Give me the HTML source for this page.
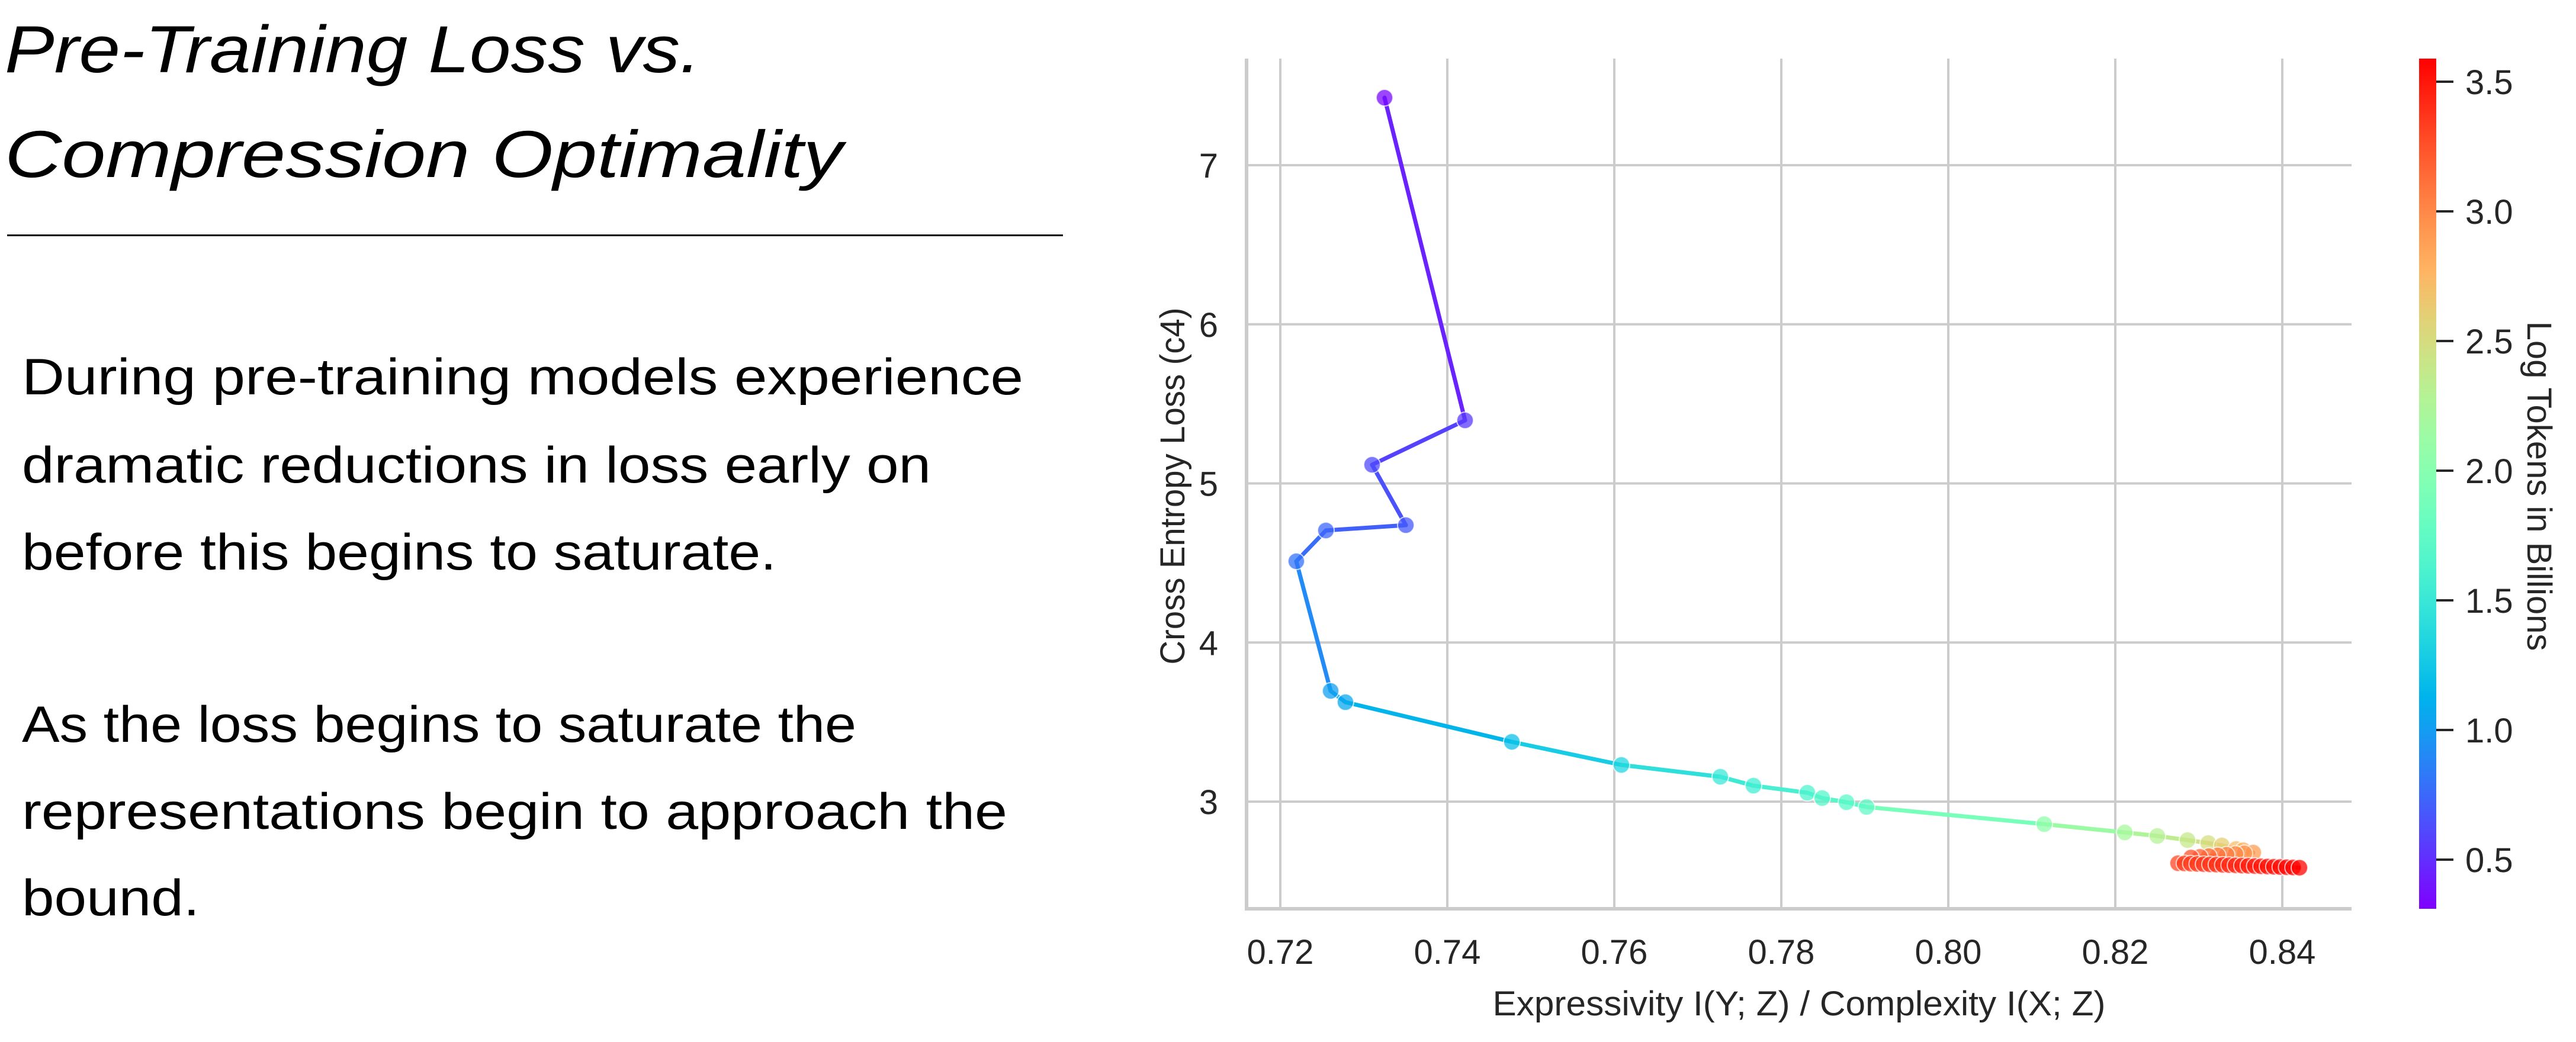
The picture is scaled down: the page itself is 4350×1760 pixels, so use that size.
<!DOCTYPE html>
<html><head><meta charset="utf-8">
<style>
html,body{margin:0;padding:0;background:#fff;}
svg{display:block;}
text{font-family:"Liberation Sans",sans-serif;}
</style></head>
<body>
<svg id="s" width="4350" height="1760" viewBox="0 0 4350 1760" xmlns="http://www.w3.org/2000/svg">
<defs>
<linearGradient id="cb" x1="0" y1="1" x2="0" y2="0"></linearGradient>
</defs>
<rect width="4350" height="1760" fill="#fff"/>
<text x="8" y="122" font-size="112" font-style="italic" textLength="1175" lengthAdjust="spacingAndGlyphs">Pre-Training Loss vs.</text>
<text x="8" y="299" font-size="112" font-style="italic" textLength="1415" lengthAdjust="spacingAndGlyphs">Compression Optimality</text>
<rect x="12" y="396" width="1783" height="3" fill="#000"/>
<g font-size="86">
<text x="37" y="666" textLength="1691" lengthAdjust="spacingAndGlyphs">During pre-training models experience</text>
<text x="37" y="815" textLength="1535" lengthAdjust="spacingAndGlyphs">dramatic reductions in loss early on</text>
<text x="37" y="962" textLength="1274" lengthAdjust="spacingAndGlyphs">before this begins to saturate.</text>
<text x="37" y="1253" textLength="1409" lengthAdjust="spacingAndGlyphs">As the loss begins to saturate the</text>
<text x="37" y="1400" textLength="1664" lengthAdjust="spacingAndGlyphs">representations begin to approach the</text>
<text x="37" y="1546" textLength="300" lengthAdjust="spacingAndGlyphs">bound.</text>
</g>
<g id="grid"></g>
<g id="data"></g>
<g id="labels" font-size="58" fill="#262626"></g>
</svg>
<script>
var NS="http://www.w3.org/2000/svg";
function el(t,a,p){var e=document.createElementNS(NS,t);for(var k in a)e.setAttribute(k,a[k]);(p||document.getElementById('s')).appendChild(e);return e;}
function rb(t){t=Math.max(0,Math.min(1,t));var r=Math.abs(2*t-0.5),g=Math.sin(Math.PI*t),b=Math.cos(Math.PI*t/2);
return 'rgb('+Math.round(255*Math.min(1,r))+','+Math.round(255*Math.max(0,g))+','+Math.round(255*Math.max(0,b))+')';}
var vmin=0.31,vmax=3.589;
function cv(v){return rb((v-vmin)/(vmax-vmin));}
var grid=document.getElementById('grid'),data=document.getElementById('data'),lab=document.getElementById('labels');
var L=2105,R=3971,T=99,B=1535;
var xt=['0.72','0.74','0.76','0.78','0.80','0.82','0.84'];
for(var i=0;i<7;i++){var x=2162+i*282;el('line',{x1:x,y1:T,x2:x,y2:B,stroke:'#cccccc','stroke-width':4},grid);
 var t=el('text',{x:x,y:1628,'text-anchor':'middle'},lab);t.textContent=xt[i];}
for(var j=0;j<5;j++){var y=279+j*268.75;el('line',{x1:L,y1:y,x2:R,y2:y,stroke:'#cccccc','stroke-width':4},grid);
 var t=el('text',{x:2057,y:y+21,'text-anchor':'end'},lab);t.textContent=String(7-j);}
el('line',{x1:L,y1:T,x2:L,y2:B+3,stroke:'#cccccc','stroke-width':6},grid);
el('line',{x1:L-3,y1:B,x2:R,y2:B,stroke:'#cccccc','stroke-width':6},grid);
var P=[[2338,165,0.35],[2474,710,0.55],[2317,785,0.62],[2374,887,0.68],[2239,896,0.74],[2189,948,0.8],[2247,1167,1.02],[2272,1186,1.07],
[2553,1253,1.2],[2738,1292,1.35],[2905,1312,1.5],[2961,1327,1.55],[3052,1339,1.63],[3077,1348,1.67],[3118,1355,1.71],[3152,1363,1.75],
[3452,1392,2.05],[3588,1406,2.2],[3643,1412,2.3],[3694,1419,2.4],[3729,1424,2.5],[3752,1428,2.6],[3776,1434,2.72],[3788,1436,2.8]];
var n=8;for(var k=0;k<n;k++){P.push([3805-k*15,1440+k*1.2,2.9+k*0.05]);}
var m=20;for(var k=0;k<m;k++){P.push([3678+k*(205/(m-1)),1458+k*0.4,3.3+k*0.015]);}
for(var i=0;i<P.length-1;i++){var a=P[i],b=P[i+1];
 el('line',{x1:a[0],y1:a[1],x2:b[0],y2:b[1],stroke:cv((a[2]+b[2])/2),'stroke-width':7,'stroke-linecap':'round'},data);}
for(var i=0;i<P.length;i++){var a=P[i];
 el('circle',{cx:a[0],cy:a[1],r:14,fill:cv(a[2]),'fill-opacity':0.75,stroke:'#fff','stroke-opacity':0.7,'stroke-width':2},data);}
var g=document.getElementById('cb');
for(var i=0;i<=20;i++){el('stop',{offset:(i/20),'stop-color':rb(i/20)},g);}
el('rect',{x:4085,y:T,width:29,height:B-T,fill:'url(#cb)'});
var ct=['0.5','1.0','1.5','2.0','2.5','3.0','3.5'];
for(var i=0;i<7;i++){var y=1452-i*219;el('line',{x1:4114,y1:y,x2:4143,y2:y,stroke:'#262626','stroke-width':4},lab);
 var t=el('text',{x:4163,y:y+21},lab);t.textContent=ct[i];}
var t=el('text',{x:0,y:0,'text-anchor':'middle',transform:'translate(4268,821) rotate(90)'},lab);t.textContent='Log Tokens in Billions';
var t=el('text',{x:0,y:0,'text-anchor':'middle',transform:'translate(2000,821) rotate(-90)',textLength:603,lengthAdjust:'spacingAndGlyphs'},lab);t.textContent='Cross Entropy Loss (c4)';
var t=el('text',{x:3038,y:1715,'text-anchor':'middle',textLength:1035,lengthAdjust:'spacingAndGlyphs'},lab);t.textContent='Expressivity I(Y; Z) / Complexity I(X; Z)';
</script>
</body></html>
